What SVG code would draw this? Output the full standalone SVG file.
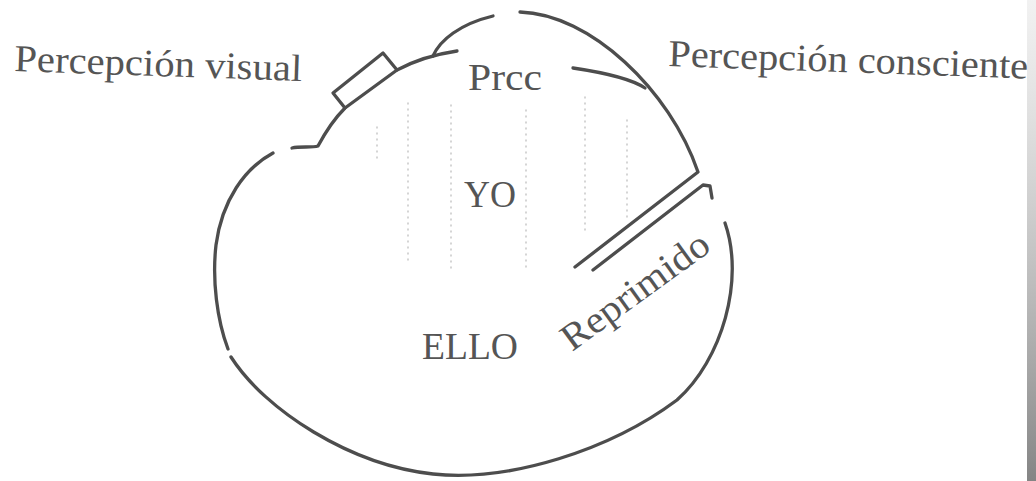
<svg xmlns="http://www.w3.org/2000/svg" width="1036" height="481" viewBox="0 0 1036 481">
  <defs>
    <linearGradient id="edge" x1="0" y1="0" x2="0" y2="1">
      <stop offset="0" stop-color="#bbb" stop-opacity="0.2"/>
      <stop offset="1" stop-color="#777" stop-opacity="0.9"/>
    </linearGradient>
  </defs>
  <style>
    .ln { fill: none; stroke: #4d4d4d; stroke-width: 3.3; stroke-linecap: round; stroke-linejoin: round; }
    .dot { fill: none; stroke: #c4c4c4; stroke-width: 1.4; stroke-dasharray: 1 5; stroke-linecap: round; }
    .lbl { font-family: "Liberation Serif", "DejaVu Serif", serif; font-size: 38px; fill: #555; }
  </style>
  <rect width="1036" height="481" fill="#fff"/>
  <rect x="1027" y="0" width="9" height="481" fill="url(#edge)"/>

  <g id="print-through">
    <path class="dot" d="M377,127 V160"/>
    <path class="dot" d="M408,103 V265"/>
    <path class="dot" d="M451,105 V270"/>
    <path class="dot" d="M526,110 V270"/>
    <path class="dot" d="M585,97 V235"/>
    <path class="dot" d="M627,120 V220"/>
  </g>

  <g id="connectors">
    <path class="ln" d="M273,153 C245,168 222,200 216,245 C212,280 217,320 228,349"/>
    <path class="ln" d="M231,357 C265,410 350,465 433,474 C510,482 610,450 677,400 C722,360 745,280 725,223"/>
    <path class="ln" d="M292,148 C300,146 312,148 318,146 C325,133 335,118 345,108 L397,70 C412,62 430,55 457,51"/>
    <path class="ln" d="M433,56 C440,40 460,24 493,16"/>
    <path class="ln" d="M520,12 C590,14 670,90 698,172 L575,267"/>
    <path class="ln" d="M573,68 C600,72 630,78 645,88"/>
    <path class="ln" d="M593,270 L703,185 L710,186 L712,198"/>
  </g>

  <g id="node-box">
    <path class="ln" d="M345,108 L333,93 L383,53 L397,70"/>
  </g>

  <g id="node-percepcion-visual">
    <text class="lbl" x="14" y="71" textLength="288" lengthAdjust="spacingAndGlyphs" transform="rotate(2 14 71)">Percepción visual</text>
  </g>
  <g id="node-percepcion-consciente">
    <text class="lbl" x="668" y="66" textLength="360" lengthAdjust="spacingAndGlyphs" transform="rotate(2 668 66)">Percepción consciente</text>
  </g>
  <g id="node-prcc">
    <text class="lbl" x="468" y="90" textLength="74" lengthAdjust="spacingAndGlyphs">Prcc</text>
  </g>
  <g id="node-yo">
    <text class="lbl" x="464" y="207" textLength="52" lengthAdjust="spacingAndGlyphs">YO</text>
  </g>
  <g id="node-ello">
    <text class="lbl" x="422" y="359" textLength="96" lengthAdjust="spacingAndGlyphs">ELLO</text>
  </g>
  <g id="node-reprimido">
    <text class="lbl" x="572" y="352" textLength="174" lengthAdjust="spacingAndGlyphs" transform="rotate(-36 572 352)">Reprimido</text>
  </g>
</svg>
